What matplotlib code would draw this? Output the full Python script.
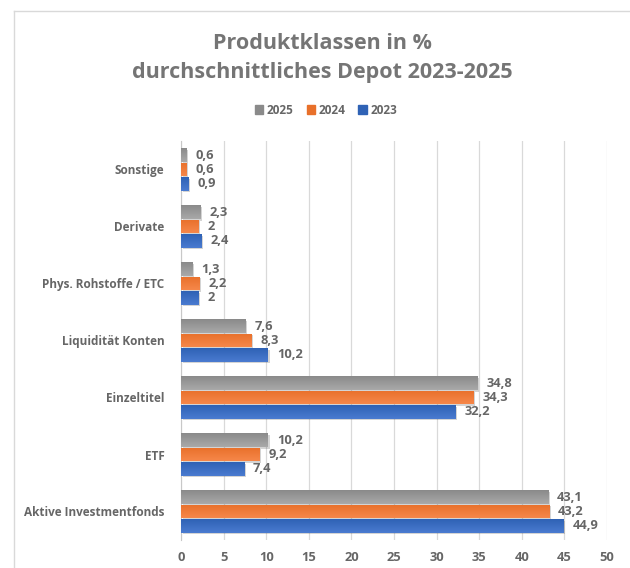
import matplotlib
matplotlib.use("Agg")
import matplotlib.pyplot as plt
import numpy as np
from matplotlib.colors import LinearSegmentedColormap
from matplotlib.lines import Line2D
import matplotlib.patheffects as pe

plt.rcParams['font.family'] = ['Open Sans', 'DejaVu Sans']

categories = ["Aktive Investmentfonds", "ETF", "Einzeltitel", "Liquidität Konten",
              "Phys. Rohstoffe / ETC", "Derivate", "Sonstige"]
series_names = ["2025", "2024", "2023"]
values_2025 = [43.1, 10.2, 34.8, 7.6, 1.3, 2.3, 0.6]
values_2024 = [43.2, 9.2, 34.3, 8.3, 2.2, 2.0, 0.6]
values_2023 = [44.9, 7.4, 32.2, 10.2, 2.0, 2.4, 0.9]
xticks = [0, 5, 10, 15, 20, 25, 30, 35, 40, 45, 50]
title = "Produktklassen in %\ndurchschnittliches Depot 2023-2025"

colors = {"2025": ("#a9a9a9", "#8a8a8a"),
          "2024": ("#f6874a", "#e8702a"),
          "2023": ("#4a7bd0", "#2f62b5")}
text_color = "#666666"

fig = plt.figure(figsize=(6.3, 5.68), dpi=100)
ax = fig.add_axes([181/630, 1 - 540/568, 426/630, 399/568])

# chart border
fig.add_artist(Line2D([14/630, 1.0], [1 - 11/568, 1 - 11/568], color="#d9d9d9", lw=1, transform=fig.transFigure))
fig.add_artist(Line2D([14/630, 14/630], [0, 1 - 11/568], color="#d9d9d9", lw=1, transform=fig.transFigure))

y = np.arange(len(categories))
h = 0.25
offsets = {"2025": h, "2024": 0.0, "2023": -h}
data = {"2025": values_2025, "2024": values_2024, "2023": values_2023}

ax.set_xlim(0, 50)
ax.set_ylim(-0.5, len(categories) - 0.5)

for name in series_names:
    light, dark = colors[name]
    bars = ax.barh(y + offsets[name], data[name], height=h * 0.97, color=dark, zorder=3,
                   linewidth=0)
    cmap = LinearSegmentedColormap.from_list(name, [light, dark])
    grad = np.linspace(0, 1, 64).reshape(-1, 1)
    for b, v in zip(bars, data[name]):
        b.set_path_effects([pe.SimplePatchShadow(offset=(1.2, -1.2), alpha=0.25, shadow_rgbFace="#555555"),
                            pe.Normal()])
        x0, y0 = b.get_x(), b.get_y()
        w, hh = b.get_width(), b.get_height()
        im = ax.imshow(grad, cmap=cmap, aspect="auto", extent=(x0, x0 + w, y0 + hh, y0),
                       origin="upper", zorder=4, interpolation="bilinear")
        im.set_clip_path(b)
        lbl = ("%g" % v).replace(".", ",")
        ax.annotate(lbl, (x0 + w, y0 + hh / 2), xytext=(6.5, 0), textcoords="offset points",
                    ha="left", va="center", fontsize=9.3, fontweight="bold", color=text_color, zorder=5)

ax.set_yticks(y)
ax.set_yticklabels(categories, fontsize=8.5, fontweight="bold", color=text_color)
ax.set_xticks(xticks)
ax.set_xticklabels([str(t) for t in xticks], fontsize=9.3, fontweight="bold", color=text_color)
ax.tick_params(axis="y", length=0, pad=12)
ax.tick_params(axis="x", length=0, pad=8)
ax.grid(axis="x", color="#d9d9d9", lw=0.9, zorder=0)
for s in ["top", "right", "bottom"]:
    ax.spines[s].set_visible(False)
ax.spines["left"].set_color("#c8c8c8")
ax.spines["left"].set_zorder(2)

fig.text(322/630, 1 - 58/568, title, ha="center", va="center", fontsize=15.5, fontweight="bold",
         color="#757575", linespacing=1.5)

handles = [plt.Rectangle((0, 0), 1, 1, color=colors[n][1]) for n in series_names]
leg = fig.legend(handles, series_names, loc="center", bbox_to_anchor=(326/630, 1 - 110/568),
                 ncol=3, frameon=False, handlelength=0.7, handleheight=0.7, handletextpad=0.3,
                 columnspacing=1.1, prop={"weight": "bold", "size": 8.5})
for t in leg.get_texts():
    t.set_color(text_color)

fig.savefig("out.png", dpi=100)
